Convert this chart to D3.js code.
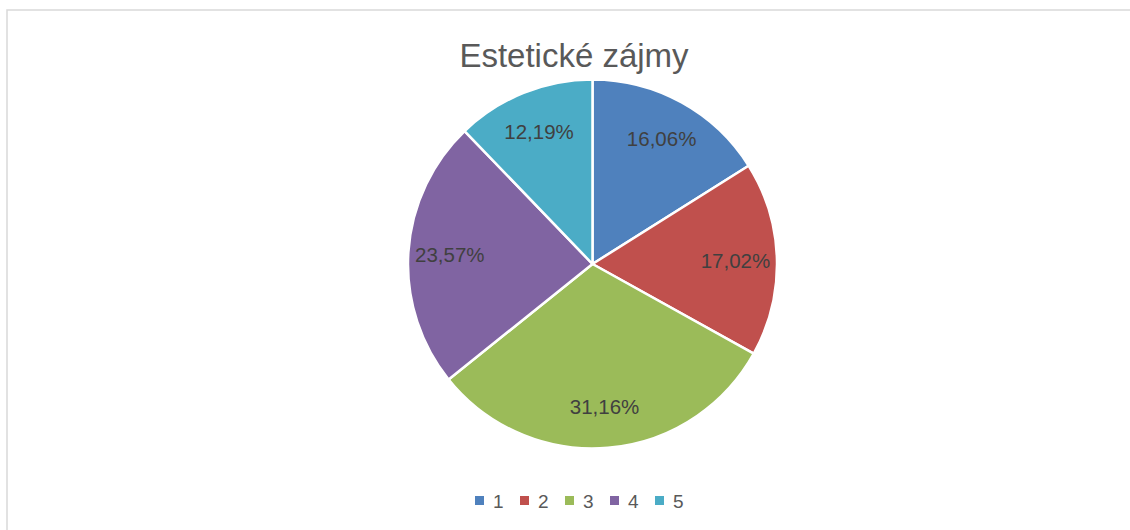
<!DOCTYPE html>
<html>
<head>
<meta charset="utf-8">
<script src="https://cdn.jsdelivr.net/npm/d3@7"></script>
<style>
  body { margin: 0; background: #fff; }
  text { font-family: "Liberation Sans", Arial, sans-serif; }
</style>
</head>
<body>
<svg></svg>
<script>
var categories = ["1", "2", "3", "4", "5"];
var values = [16.06, 17.02, 31.16, 23.57, 12.19];
var labels = ["16,06%", "17,02%", "31,16%", "23,57%", "12,19%"];
var colors = ["#4F81BD", "#C0504D", "#9BBB59", "#8064A2", "#4BACC6"];
var title = "Estetické zájmy";

var w = 1130,
    h = 530,
    cx = 592.5,
    cy = 264,
    r = 184.5;

var svg = d3.select("svg")
    .attr("width", w)
    .attr("height", h);

// chart area frame (runs off the right and bottom edge)
svg.append("rect")
    .attr("x", 7)
    .attr("y", 10)
    .attr("width", w + 20)
    .attr("height", h + 20)
    .attr("fill", "white")
    .attr("stroke", "#d9d9d9")
    .attr("stroke-width", 1.5);

svg.append("text")
    .text(title)
    .attr("x", 574)
    .attr("y", 67)
    .attr("font-size", "33px")
    .attr("fill", "#595959")
    .attr("text-anchor", "middle");

var color = d3.scaleOrdinal().domain(categories).range(colors);

var pie = d3.pie().sort(null).value(function(d) { return d.v; });
var data = pie(values.map(function(v, i) {
    return { c: categories[i], v: v, label: labels[i] };
}));

var arc = d3.arc().innerRadius(0).outerRadius(r);
var labelArc = d3.arc().innerRadius(143).outerRadius(143);

var g = svg.append("g")
    .attr("transform", "translate(" + cx + "," + cy + ")");

g.selectAll("path")
    .data(data)
    .enter()
    .append("path")
    .attr("d", arc)
    .attr("fill", function(d) { return color(d.data.c); })
    .attr("stroke", "white")
    .attr("stroke-width", 2.5)
    .attr("stroke-linejoin", "round");

g.selectAll("text")
    .data(data)
    .enter()
    .append("text")
    .text(function(d) { return d.data.label; })
    .attr("transform", function(d) {
        return "translate(" + labelArc.centroid(d) + ")";
    })
    .attr("dy", "0.36em")
    .attr("font-size", "20.5px")
    .attr("fill", "#404040")
    .attr("text-anchor", "middle");

// legend
var legendX = d3.scalePoint().domain(categories).range([475, 655]);

var legend = svg.selectAll(".legend")
    .data(categories)
    .enter()
    .append("g")
    .attr("class", "legend")
    .attr("transform", function(d) {
        return "translate(" + legendX(d) + ",496)";
    });

legend.append("rect")
    .attr("width", 9)
    .attr("height", 9)
    .attr("fill", function(d) { return color(d); });

legend.append("text")
    .text(function(d) { return d; })
    .attr("x", 18)
    .attr("y", 11.7)
    .attr("font-size", "19px")
    .attr("fill", "#595959");
</script>
</body>
</html>
